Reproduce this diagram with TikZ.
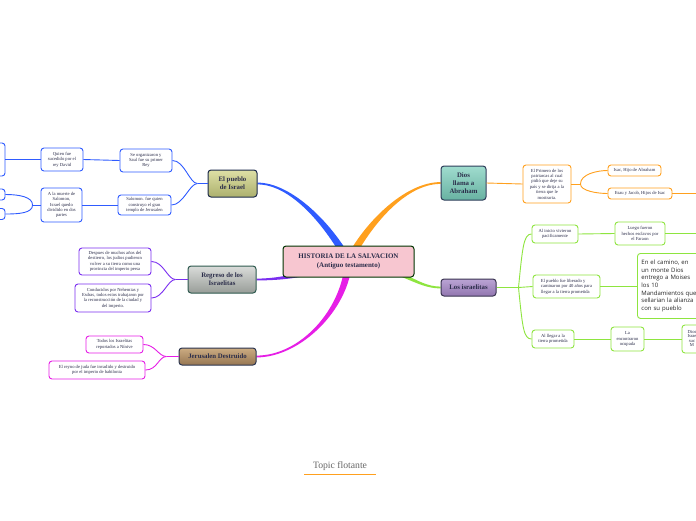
\documentclass[tikz,border=0pt]{standalone}
\usepackage{fontspec}
\setmainfont{Liberation Serif}
\newfontfamily\notefont{Open Sans}
\usetikzlibrary{positioning,calc,backgrounds}

\definecolor{bluebr}{HTML}{2F5BFF}
\definecolor{orangebr}{HTML}{FFA01E}
\definecolor{purplebr}{HTML}{7A2EF0}
\definecolor{greenbr}{HTML}{8EE53F}
\definecolor{magentabr}{HTML}{E61EE6}
\definecolor{inkc}{HTML}{2B2D4A}

\begin{document}
\begin{tikzpicture}[x=1pt, y=-1pt, line width=0.9pt,
    topic/.style={rounded corners=3pt, line width=1pt, align=center, inner sep=1pt,
                  text=inkc, font=\fontsize{6.8}{8}\selectfont\bfseries},
    leaf/.style={draw=#1, fill=white, rounded corners=3pt, line width=0.9pt, align=center,
                 inner sep=1pt, text=inkc, font=\fontsize{4.6}{5.4}\selectfont},
    link/.style={draw=#1, line width=0.9pt}]

    % --- frame ---
                \useasboundingbox (0,0) rectangle (696,520);
                \clip (0,0) rectangle (696,520);

    % --- central topic ---
                \node[topic, draw=black!60!green!50!black, fill={rgb,255:red,247;green,198;blue,208},
                      minimum width=131pt, minimum height=31pt,
                      font=\fontsize{7}{8.7}\selectfont\bfseries] (hist) at (348.5,261.5)
                      {HISTORIA DE LA SALVACION\\(Antiguo testamento)};

    % --- main topics ---
                \node[topic, draw={rgb,255:red,28;green,42;blue,74}, top color={rgb,255:red,222;green,224;blue,165},
                      bottom color={rgb,255:red,172;green,176;blue,110},
                      minimum width=49pt, minimum height=27pt] (pueblo) at (232.5,183.5) {El pueblo\\de Israel};
                \node[topic, draw={rgb,255:red,46;green,61;blue,90}, top color={rgb,255:red,160;green,220;blue,206},
                      bottom color={rgb,255:red,104;green,178;blue,162},
                      minimum width=45pt, minimum height=34pt] (abraham) at (463.5,183) {Dios\\llama a\\Abraham};
                \node[topic, draw={rgb,255:red,47;green,90;blue,79}, top color={rgb,255:red,218;green,220;blue,218},
                      bottom color={rgb,255:red,152;green,157;blue,152},
                      minimum width=68pt, minimum height=27pt] (regreso) at (222,279.5) {Regreso de los\\Israelitas};
                \node[topic, draw={rgb,255:red,59;green,53;blue,82}, top color={rgb,255:red,186;green,164;blue,212},
                      bottom color={rgb,255:red,146;green,118;blue,176},
                      minimum width=55pt, minimum height=17pt] (isr) at (468.5,287.5) {Los israelitas};
                \node[topic, draw={rgb,255:red,43;green,53;blue,80}, top color={rgb,255:red,204;green,172;blue,130},
                      bottom color={rgb,255:red,150;green,118;blue,82},
                      minimum width=77pt, minimum height=17pt] (jerus) at (217.5,356.5) {Jerusalen Destruido};

    % --- El pueblo de Israel ---
                \node[leaf=bluebr, minimum width=52pt, minimum height=23pt] (saul) at (146,160.5)
                      {Se organizaron y\\Saul fue su primer\\Rey};
                \node[leaf=bluebr, minimum width=53pt, minimum height=20pt] (salomon) at (144.5,205)
                      {Salomon. fue quien\\construyo el gran\\templo de Jerusalen};
                \node[leaf=bluebr, minimum width=42pt, minimum height=23pt] (david) at (62,159.5)
                      {Quien fue\\sucedido por el\\rey David};
                \node[leaf=bluebr, minimum width=41pt, minimum height=34pt] (division) at (61.5,205)
                      {A la muerte de\\Salomon,\\Israel quedo\\dividido en dos\\partes};
                \node[leaf=bluebr, minimum width=40pt, minimum height=33pt] (leftA) at (-15,159.5) {};
                \node[leaf=bluebr, minimum width=40pt, minimum height=11pt] (leftB) at (-15,194.5) {};
                \node[leaf=bluebr, minimum width=40pt, minimum height=11pt] (leftC) at (-15,214) {};

    % --- Regreso de los Israelitas ---
                \node[leaf=purplebr, minimum width=72pt, minimum height=27pt] (destierro) at (115,261.5)
                      {Despues de muchos años del\\destierro, los judios pudieron\\volver a su tierra como una\\provincia del imperio persa};
                \node[leaf=purplebr, minimum width=76pt, minimum height=28pt] (nehemias) at (113,298)
                      {Conducidos por Nehemias y\\Esdras, todos estos trabajaron por\\la reconstrucción de la ciudad y\\del imperio.};

    % --- Jerusalen Destruido ---
                \node[leaf=magentabr, minimum width=57pt, minimum height=17pt] (ninive) at (114.5,344.5)
                      {Todos los Israelitas\\reportados a Nínive};
                \node[leaf=magentabr, minimum width=96pt, minimum height=18pt] (babilonia) at (97,370)
                      {El reyno de juda fue invadido y destruido\\por el imperio de babilonia};

    % --- Dios llama a Abraham ---
                \node[leaf=orangebr, minimum width=48pt, minimum height=38pt] (patriarca) at (547,184)
                      {El Primero de los\\patriarcas al cual\\pidió que deje su\\país y se dirija a la\\tierra que le\\mostraria.};
                \node[leaf=orangebr, minimum width=53pt, minimum height=11pt] (isac) at (634.5,170.5)
                      {Isac, Hijo de Abraham};
                \node[leaf=orangebr, minimum width=64pt, minimum height=11pt] (esau) at (640,193.5)
                      {Esau y Jacob, Hijos de Isac};
                \coordinate (esauout) at (700,193.5);

    % --- Los israelitas ---
                \node[leaf=greenbr, minimum width=46pt, minimum height=18pt] (inicio) at (555,234)
                      {Al inicio vivieron\\pacificamente};
                \node[leaf=greenbr, minimum width=50pt, minimum height=23pt] (faraon) at (640,233.5)
                      {Luego fueron\\hechos esclavos por\\el Faraon};
                \coordinate (faraonout) at (700,233.5);
                \node[leaf=greenbr, minimum width=67pt, minimum height=23pt, align=left] (liberado) at (566.5,286.5)
                      {El pueblo fue liberado y\\caminaron por 40 años para\\llegar a la tierra prometida};
                \node[leaf=greenbr, anchor=north west, minimum height=65pt, inner xsep=4pt, text width=62pt,
                      align=left, text=black!85, font=\notefont\fontsize{6}{7.7}\selectfont] (camino) at (637,253)
                      {En el camino, en\\un monte Dios\\entrego a Moises\\los 10\\Mandamientos que\\sellarian la alianza\\con su pueblo};
                \node[leaf=greenbr, minimum width=42pt, minimum height=18pt] (llegar) at (553,339)
                      {Al llegar a la\\tierra prometida};
                \node[leaf=greenbr, minimum width=33pt, minimum height=24pt] (ocupada) at (627.5,339)
                      {La\\encontraron\\ocupada};
                \node[leaf=greenbr, anchor=west, minimum width=34pt, minimum height=28pt] (jueces) at (681.5,339) {};
                \node[text=inkc, align=center, inner sep=0pt, font=\fontsize{4.6}{4.5}\selectfont] (juecestext)
                      at (692,338.5) {Dios\\Israe\\suc\\M};

    % --- Topic flotante ---
                \node[text=black!60, font=\fontsize{9.7}{11}\selectfont] (flotante) at (340,466) {Topic flotante};
                \draw[orangebr, line width=1pt] ([xshift=-5pt]flotante.south west) -- ([xshift=5pt]flotante.south east);

    % --- leaf connectors ---
                \draw[link=bluebr] (pueblo.west) -- ++(-10,0) coordinate (pueblosplit);
                \draw[link=bluebr] (pueblosplit) .. controls +(-8,0) and +(12,0) .. (saul.east);
                \draw[link=bluebr] (pueblosplit) .. controls +(-8,0) and +(12,0) .. (salomon.east);
                \draw[link=bluebr] (saul.west) -- (david.east);
                \draw[link=bluebr] (david.west) -- (leftA.east);
                \draw[link=bluebr] (salomon.west) -- (division.east);
                \draw[link=bluebr] (division.west) -- ++(-8,0) coordinate (divsplit);
                \draw[link=bluebr] (divsplit) .. controls +(0,-8) and +(14,0) .. (leftB.east);
                \draw[link=bluebr] (divsplit) .. controls +(0,8) and +(14,0) .. (leftC.east);

                \draw[link=purplebr] (regreso.west) -- ++(-12,0) coordinate (regsplit);
                \draw[link=purplebr] (regsplit) .. controls +(-8,0) and +(12,0) .. (destierro.east);
                \draw[link=purplebr] (regsplit) .. controls +(-8,0) and +(12,0) .. (nehemias.east);

                \draw[link=magentabr] (jerus.west) -- ++(-12,0) coordinate (jersplit);
                \draw[link=magentabr] (jersplit) .. controls +(-8,0) and +(12,0) .. (ninive.east);
                \draw[link=magentabr] (jersplit) .. controls +(-8,0) and +(12,0) .. (babilonia.east);

                \draw[link=orangebr] (abraham.east) -- (patriarca.west);
                \draw[link=orangebr] (patriarca.east) -- ++(9,0) coordinate (patsplit);
                \draw[link=orangebr] (patsplit) .. controls +(0,-10) and +(-10,0) .. (isac.west);
                \draw[link=orangebr] (patsplit) .. controls +(0,7) and +(-10,0) .. (esau.west);
                \draw[link=orangebr] (esau.east) -- (esauout);

                \draw[link=greenbr] (isr.east) -- ++(22,0) coordinate (isrsplit);
                \draw[link=greenbr] (isrsplit) .. controls +(4,-40) and +(-8,0) .. (inicio.west);
                \draw[link=greenbr] (isrsplit) -- (liberado.west);
                \draw[link=greenbr] (isrsplit) .. controls +(4,40) and +(-8,0) .. (llegar.west);
                \draw[link=greenbr] (inicio.east) -- (faraon.west);
                \draw[link=greenbr] (faraon.east) -- (faraonout);
                \draw[link=greenbr] (liberado.east) -- (camino.west |- liberado.east);
                \draw[link=greenbr] (llegar.east) -- (ocupada.west);
                \draw[link=greenbr] (ocupada.east) -- (jueces.west);

    % --- main branches (tapered, under the central topic) ---
                \begin{pgfonlayer}{background}
                    \fill[white] (0,0) rectangle (696,520);
                    \fill[bluebr] ($(hist.center)+(3,-2)$) .. controls ($(hist.center)+(-15,-36)$) and ($(pueblo.east)+(35,-0.9)$) .. ($(pueblo.east)+(0,-0.9)$)
                        -- ($(pueblo.east)+(0,0.9)$) .. controls ($(pueblo.east)+(35,0.9)$) and ($(hist.center)+(-21,-32)$) .. ($(hist.center)+(-3,2)$) -- cycle;
                    \fill[orangebr] ($(hist.center)+(3,2)$) .. controls ($(hist.center)+(21,-34)$) and ($(abraham.west)+(-36,0.9)$) .. ($(abraham.west)+(0,0.9)$)
                        -- ($(abraham.west)+(0,-0.9)$) .. controls ($(abraham.west)+(-36,-0.9)$) and ($(hist.center)+(15,-38)$) .. ($(hist.center)+(-3,-2)$) -- cycle;
                    \fill[purplebr] ($(hist.center)+(0.9,2.9)$) .. controls ($(hist.center)+(-42.1,16.9)$) and ($(regreso.east)+(24,0.9)$) .. ($(regreso.east)+(0,0.9)$)
                        -- ($(regreso.east)+(0,-0.9)$) .. controls ($(regreso.east)+(24,-0.9)$) and ($(hist.center)+(-43.9,11.1)$) .. ($(hist.center)+(-0.9,-2.9)$) -- cycle;
                    \fill[greenbr] ($(hist.center)+(-0.2,3)$) .. controls ($(hist.center)+(51.8,7)$) and ($(isr.west)+(-26,0.9)$) .. ($(isr.west)+(0,0.9)$)
                        -- ($(isr.west)+(0,-0.9)$) .. controls ($(isr.west)+(-26,-0.9)$) and ($(hist.center)+(52.2,1)$) .. ($(hist.center)+(0.2,-3)$) -- cycle;
                    \fill[magentabr] ($(hist.center)+(3.5,0.2)$) .. controls ($(hist.center)+(0.5,48.2)$) and ($(jerus.east)+(44,0.9)$) .. ($(jerus.east)+(0,0.9)$)
                        -- ($(jerus.east)+(0,-0.9)$) .. controls ($(jerus.east)+(44,-0.9)$) and ($(hist.center)+(-6.5,47.8)$) .. ($(hist.center)+(-3.5,-0.2)$) -- cycle;
                \end{pgfonlayer}

            \end{tikzpicture}
\end{document}
